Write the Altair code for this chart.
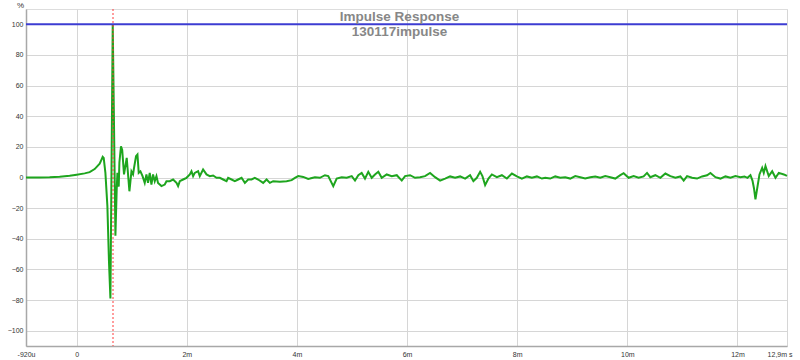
import altair as alt
import pandas as pd

# ---- impulse response samples (time in ms, amplitude in %) ----
pre_t = [-0.92, -0.673, -0.491, -0.309, -0.127, 0.0, 0.145, 0.236, 0.327, 0.418, 0.449, 0.473, 0.491,
         0.522, 0.558, 0.587, 0.613, 0.655, 0.704, 0.727, 0.740, 0.764, 0.776, 0.805, 0.827, 0.860,
         0.909, 0.958, 0.995, 1.024, 1.042, 1.078, 1.104, 1.127, 1.158, 1.195]
pre_v = [0.0, 0.0, 0.1, 0.5, 1.1, 1.8, 2.7, 3.5, 5.5, 9.0, 11.5, 13.5, 12.8,
         3.0, -18.7, -55.0, -79.0, 100.0, -38.0, -7.8, 3.0, -6.0, 9.8, 20.4, 18.0, 2.0,
         12.8, -9.0, 4.0, 2.0, 6.3, 13.9, 15.0, 3.0, 4.0, 1.0]

tail1_t = [1.236, 1.267, 1.296, 1.327, 1.358, 1.387, 1.418, 1.449, 1.478, 1.540, 1.600, 1.631, 1.691,
           1.751, 1.813, 1.842, 1.873, 1.933, 1.995, 2.055, 2.085, 2.115, 2.145, 2.205, 2.236, 2.296,
           2.358, 2.418, 2.478, 2.540, 2.600, 2.660, 2.722, 2.751, 2.813, 2.873, 2.933, 2.995, 3.055,
           3.115, 3.176, 3.236, 3.296, 3.387, 3.449, 3.509, 3.569, 3.691, 3.813, 3.904, 3.964, 4.024,
           4.115, 4.205]
tail1_v = [-3.5, 2.0, -3.5, 3.0, -4.6, 2.0, -2.4, 0.9, -3.5, -5.6, -4.6, -2.4, -2.4,
           -1.3, -3.5, -5.6, -2.4, -1.3, -0.2, 2.0, 4.1, 0.9, 3.0, 4.1, 0.9, 5.2,
           2.0, 0.9, 1.3, -0.2, -0.2, -1.3, -2.4, -0.2, -1.3, -2.4, -1.3, -0.2, -3.5,
           -1.3, -1.3, -0.2, -1.3, -3.5, -1.3, -3.5, -2.4, -2.8, -2.4, -1.7, -0.2, 0.9,
           0.4, -0.9]

tail2_t = [4.236, 4.327, 4.418, 4.509, 4.569, 4.660, 4.722, 4.813, 4.904, 4.995, 5.055, 5.115, 5.176,
           5.236, 5.296, 5.358, 5.418, 5.478, 5.540, 5.631, 5.722, 5.813, 5.904, 5.964, 6.055, 6.145,
           6.236, 6.327, 6.418, 6.509, 6.600, 6.691, 6.782, 6.873, 6.964, 7.055, 7.145, 7.205, 7.267,
           7.327, 7.369, 7.418, 7.478, 7.540, 7.631, 7.722, 7.813, 7.904, 7.995, 8.085, 8.176, 8.267,
           8.358, 8.449]
tail2_v = [-0.7, 0.2, -0.2, 1.5, 0.9, -5.7, -0.7, 0.2, -0.2, 0.9, -2.0, 1.5, 3.0,
           -0.7, 3.7, -0.2, 2.0, 3.7, -0.2, 2.0, 0.9, 1.5, -2.0, 0.9, 1.5, -0.2,
           0.2, 0.9, 3.0, 0.2, -2.0, -0.7, 0.7, -0.2, 0.7, -0.7, 1.5, -2.4, -0.2,
           3.7, 0.9, -5.0, -0.7, 2.0, 0.2, 1.5, -0.7, 2.6, 0.7, -0.7, 0.7, -0.2,
           0.7, -0.7]

tail3_t = [8.509, 8.600, 8.691, 8.782, 8.873, 8.964, 9.055, 9.145, 9.236, 9.327, 9.418, 9.509, 9.600,
           9.691, 9.782, 9.873, 9.933, 10.024, 10.115, 10.205, 10.296, 10.358, 10.418, 10.509, 10.600,
           10.691, 10.782, 10.873, 10.964, 11.024, 11.085, 11.176, 11.267, 11.358, 11.449, 11.509,
           11.600, 11.691, 11.782, 11.873, 11.964, 12.055, 12.127, 12.182, 12.236, 12.273, 12.300,
           12.327, 12.364, 12.400, 12.449, 12.478, 12.509, 12.569, 12.631, 12.691, 12.751, 12.842, 12.9]
tail3_v = [-0.2, -0.7, 0.7, -0.2, 0.2, -0.7, 0.9, 0.2, -0.7, 0.2, 0.7, -0.2, 0.9,
           0.2, -0.7, 1.5, 2.8, -0.2, 0.9, -0.2, 0.7, 3.0, 0.2, 1.5, -0.2,
           2.6, 0.9, -0.2, 0.7, -2.0, 0.9, -0.2, -0.7, 0.7, 1.5, 3.0,
           0.2, -0.7, 0.7, -0.2, 0.9, 0.2, 0.7, -0.2, 1.5, -2.0, -7.0,
           -14.3, -6.0, 2.0, 6.3, 3.0, 7.4, 0.9, 4.1, -0.2, 3.0, 2.0, 1.0]

reference_level = [100]      # blue 100 % line
cursor_time = [0.66]         # red dotted cursor (ms)

x_tick_values = [-0.92, 0, 2, 4, 6, 8, 10, 12, 12.9]
x_tick_labels = ["-920u", "0", "2m", "4m", "6m", "8m", "10m", "12m", "12,9m s"]
y_tick_values = [-100, -80, -60, -40, -20, 0, 20, 40, 60, 80, 100]

title_lines = ["Impulse Response", "130117impulse"]

df = pd.DataFrame({"t": pre_t + tail1_t + tail2_t + tail3_t,
                   "v": pre_v + tail1_v + tail2_v + tail3_v})

label_expr = " : ".join(f"datum.value == {v} ? '{l}'" for v, l in zip(x_tick_values, x_tick_labels)) + " : ''"

FONT = "Liberation Sans"

x_scale = alt.Scale(domain=[x_tick_values[0], x_tick_values[-1]], nice=False, zero=False)
y_scale = alt.Scale(domain=[-110, 110], nice=False, zero=False)

x_axis = alt.Axis(values=x_tick_values, labelExpr=label_expr, title=None, ticks=False,
                  grid=True, gridColor="#d6d6d6", domainColor="#a8a8a8", domainWidth=1.5,
                  labelFont=FONT, labelFontSize=7, labelColor="#333333", labelPadding=4,
                  labelOverlap=False,
                  labelAlign={"condition": {"test": "datum.value > 12.5", "value": "right"}, "value": "center"},
                  labelOffset={"condition": {"test": "datum.value > 12.5", "value": 5}, "value": 0})

y_axis = alt.Axis(values=y_tick_values, title="%", titleAngle=0, titleX=-6, titleY=-2,
                  titleAlign="center", titleBaseline="alphabetic", titleFont=FONT,
                  titleFontSize=8, titleFontWeight="normal", titleColor="#333333",
                  ticks=False, grid=True, gridColor="#d6d6d6", domainColor="#a8a8a8", domainWidth=1.5,
                  labelFont=FONT, labelFontSize=7, labelColor="#333333", labelPadding=3,
                  labelOverlap=False, labelSeparation=0)

line = alt.Chart(df).mark_line(color="#1ea51e", strokeWidth=2).encode(
    x=alt.X("t:Q", scale=x_scale, axis=x_axis),
    y=alt.Y("v:Q", scale=y_scale, axis=y_axis),
)

blue = alt.Chart(pd.DataFrame({"v": reference_level})).mark_rule(
    color="#3c3cd2", strokeWidth=2).encode(y=alt.Y("v:Q", scale=y_scale, axis=y_axis))

red = alt.Chart(pd.DataFrame({"t": cursor_time})).mark_rule(
    color="#ff3b3b", strokeWidth=1, strokeDash=[2, 2]).encode(x=alt.X("t:Q", scale=x_scale, axis=x_axis))

chart = alt.layer(line, blue, red).properties(
    width=761, height=337,
    padding={"left": 26, "top": 9, "right": 13, "bottom": 14},
    autosize=alt.AutoSizeParams(type="none"),
    title=alt.TitleParams(text=title_lines, font=FONT, fontSize=13.5, fontWeight="bold",
                          color="#878787", anchor="middle", offset=-37, lineHeight=15, dx=-7),
).configure_view(stroke="#c4c4c4", strokeWidth=1).configure_axis(
    labelOverlap=False
).configure(background="white")

chart.save("out.html", embed_options={"renderer": "svg", "actions": False})
